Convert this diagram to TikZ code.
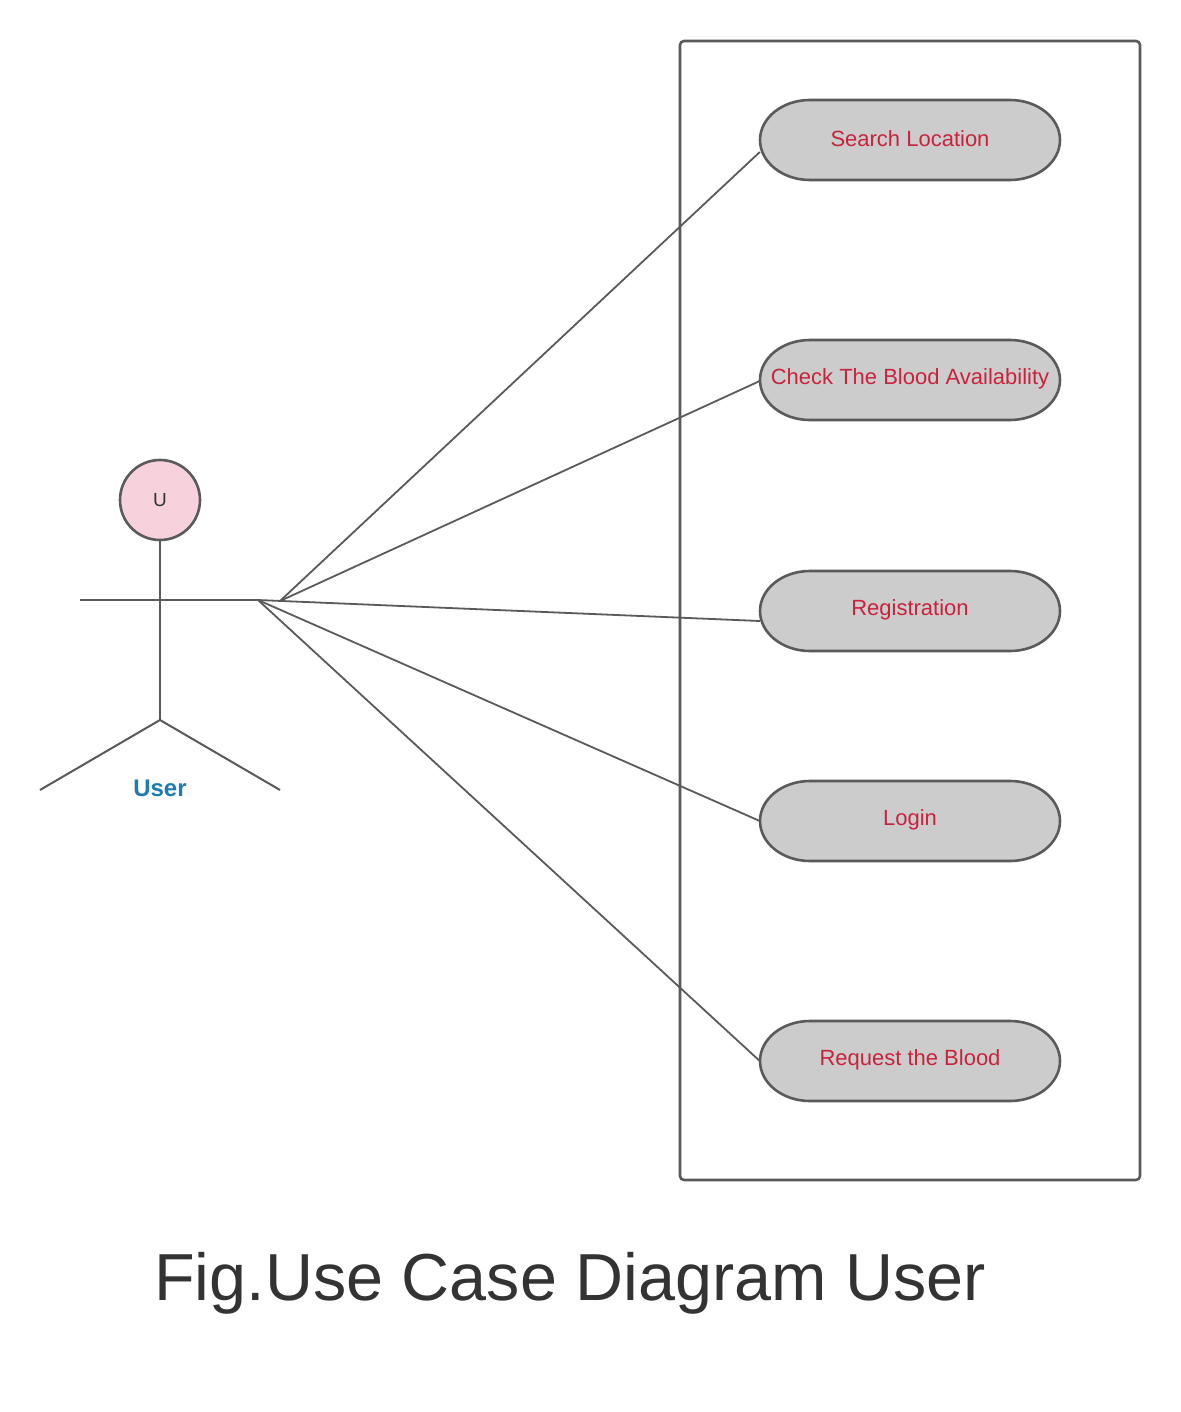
\documentclass[tikz,border=0pt]{standalone}
\usepackage{fontspec}
\setmainfont{Liberation Sans}
\usetikzlibrary{calc}
\definecolor{lineg}{HTML}{5A5A5A}
\definecolor{ucfill}{HTML}{CCCCCC}
\definecolor{uctext}{HTML}{C8233C}
\definecolor{headfill}{HTML}{F7D2DC}
\definecolor{userblue}{HTML}{1E7BB4}
\definecolor{titlec}{HTML}{333333}
\tikzset{
  ucshape/.style={draw=lineg, line width=2.6pt, fill=ucfill},
  uclabel/.style={text=uctext, font=\fontsize{22}{26}\selectfont, minimum width=300pt, minimum height=80pt, inner sep=0pt},
  conn/.style={draw=lineg, line width=1.8pt},
  actorline/.style={draw=lineg, line width=2pt},
}
\newcommand{\ucpath}[2]{% center x, center y
  \path[ucshape] (#1-100,#2-40) -- (#1+100,#2-40)
    arc[start angle=-90,end angle=90,x radius=50,y radius=40]
    -- (#1-100,#2+40)
    arc[start angle=90,end angle=270,x radius=50,y radius=40] -- cycle;}
\begin{document}
\begin{tikzpicture}[x=1pt,y=-1pt]
\useasboundingbox (0,0) rectangle (1180,1412);
\fill[white] (0,0) rectangle (1180,1412);
% system boundary
\node[draw=lineg, line width=2.6pt, rounded corners=4pt, minimum width=460pt, minimum height=1139pt, inner sep=0pt] (sys) at (910,610.5) {};
% use cases
\ucpath{910}{140}
\ucpath{910}{380}
\ucpath{910}{611}
\ucpath{910}{821}
\ucpath{910}{1061}
\node[uclabel] (uc1) at (910,139) {Search Location};
\node[uclabel] (uc2) at (910,379) {Check The Blood Availability};
\node[uclabel] (uc3) at (910,610) {Registration};
\node[uclabel] (uc4) at (910,820) {Login};
\node[uclabel] (uc5) at (910,1060) {Request the Blood};
% actor
\node[circle, draw=lineg, line width=2.6pt, fill=headfill, minimum size=80pt, inner sep=0pt, text=titlec, font=\fontsize{19}{21}\selectfont] (head) at (160,500) {U};
\coordinate (hip) at (160,720);
\coordinate (larm) at (80,600);
\coordinate (rarm) at (258,600);
\coordinate (lfoot) at (40,790);
\coordinate (rfoot) at (280,790);
\draw[actorline] (head.south) -- (hip);
\draw[actorline] (larm) -- (rarm);
\draw[actorline] (lfoot) -- (hip) -- (rfoot);
\node[text=userblue, font=\bfseries\fontsize{24}{28}\selectfont] (ulabel) at (160,788) {User};
% connector origins
\coordinate (h1) at (280,601);
% connectors
\draw[conn] (h1) -- ($(uc1.west)+(0,13)$);
\draw[conn] (h1) -- ($(uc2.west)+(0,2)$);
\draw[conn] (rarm) -- ($(uc3.west)+(0,11)$);
\draw[conn] (rarm) -- ($(uc4.west)+(0,1)$);
\draw[conn] (rarm) -- ($(uc5.west)+(0,1)$);
% title
\node[text=titlec, font=\fontsize{66.5}{70}\selectfont, anchor=base] (title) at (570,1300) {Fig.Use Case Diagram User};
\end{tikzpicture}
\end{document}
